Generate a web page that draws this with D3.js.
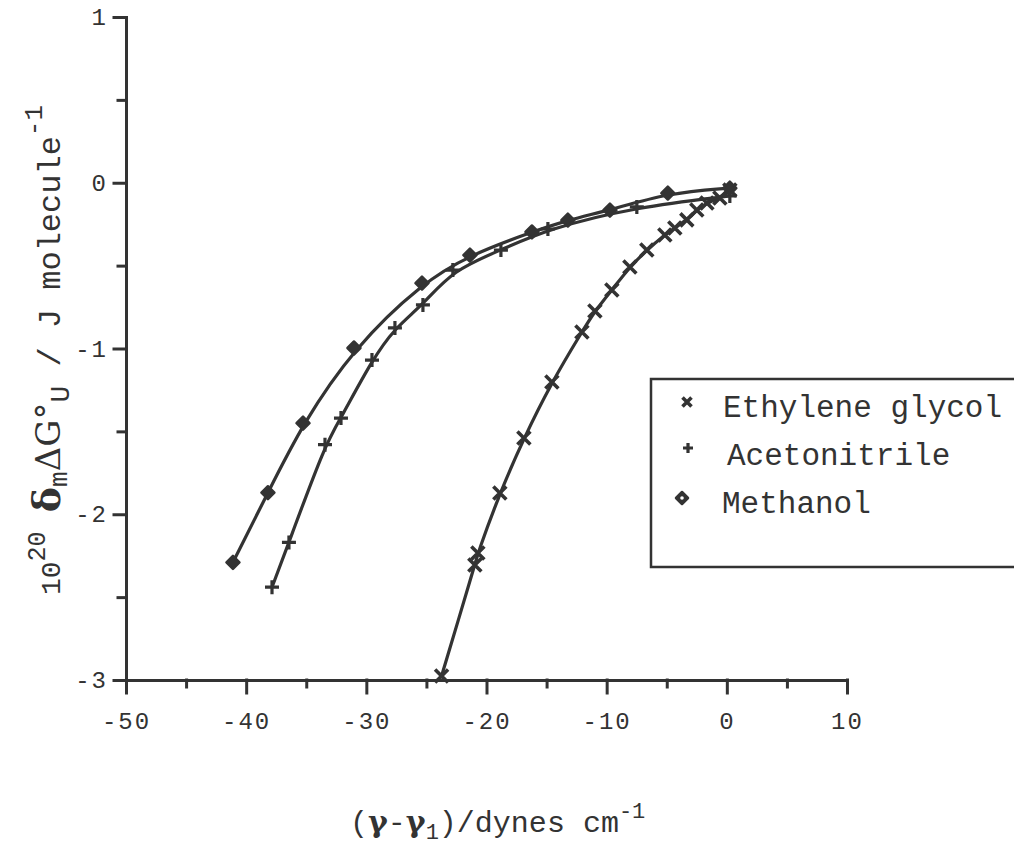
<!DOCTYPE html>
<html><head><meta charset="utf-8">
<script src="https://cdn.jsdelivr.net/npm/d3@7"></script>
<style>
html,body{margin:0;padding:0;background:#fff;}
svg{display:block;}
</style></head>
<body>
<svg id="chart" width="1014" height="848"></svg>
<script>
// ---- data ----
const xMajorTicks = [-50, -40, -30, -20, -10, 0, 10];
const yMajorTicks = [-3, -2, -1, 0, 1];
const seriesNames = ["Ethylene glycol", "Acetonitrile", "Methanol"];

const egX = [-23.74, -20.97, -20.72, -18.89, -16.89, -14.56, -12.06, -10.98, -9.57, -8.07, -6.66, -5.16, -4.33, -3.33, -2.50, -1.66, -0.58, 0.25];
const egY = [-2.976, -2.306, -2.234, -1.872, -1.540, -1.202, -0.900, -0.774, -0.647, -0.508, -0.406, -0.315, -0.273, -0.224, -0.164, -0.122, -0.092, -0.044];

const acX = [-37.85, -36.44, -33.44, -32.11, -29.53, -27.62, -25.29, -22.80, -18.80, -14.89, -7.49, 0.25];
const acY = [-2.44, -2.17, -1.58, -1.42, -1.07, -0.876, -0.737, -0.527, -0.406, -0.279, -0.146, -0.08];

const meX = [-41.10, -38.19, -35.27, -31.03, -25.37, -21.38, -16.22, -13.23, -9.73, -4.91, 0.25];
const meY = [-2.29, -1.87, -1.45, -0.997, -0.605, -0.436, -0.297, -0.225, -0.165, -0.062, -0.032];

// ---- drawing ----
const ink = "#333";
const svg = d3.select("#chart");
const x = d3.scaleLinear().domain([-50, 10]).range([126, 847]);
const y = d3.scaleLinear().domain([-3, 1]).range([680, 17]);
const mono = "'Liberation Mono', 'DejaVu Sans Mono', monospace";
const symf = "'DejaVu Serif', 'Liberation Serif', serif";

const xMinor = d3.range(-50, 10.01, 5).filter(v => !xMajorTicks.includes(v));
const yMinor = d3.range(-3, 1.01, 0.5).filter(v => !yMajorTicks.includes(v));
const fmt = d => d < 0 ? "-" + Math.abs(d) : String(d);

const gx = svg.append("g").attr("transform", `translate(0,${y(-3)})`);
gx.call(d3.axisBottom(x).tickValues(xMajorTicks).tickSize(13).tickSizeOuter(0).tickPadding(14).tickFormat(fmt));
const gxm = svg.append("g").attr("transform", `translate(0,${y(-3)})`);
gxm.call(d3.axisBottom(x).tickValues(xMinor).tickSize(7).tickSizeOuter(0).tickFormat(""));
gxm.select(".domain").remove();

const gy = svg.append("g").attr("transform", `translate(${x(-50)},0)`);
gy.call(d3.axisLeft(y).tickValues(yMajorTicks).tickSize(12).tickSizeOuter(0).tickPadding(6).tickFormat(fmt));
const gym = svg.append("g").attr("transform", `translate(${x(-50)},0)`);
gym.call(d3.axisLeft(y).tickValues(yMinor).tickSize(8).tickSizeOuter(0).tickFormat(""));
gym.select(".domain").remove();

svg.selectAll(".domain, .tick line").attr("stroke", ink).attr("stroke-width", 3).attr("stroke-linecap", "square");
svg.selectAll(".tick text").attr("font-family", mono).attr("font-size", 24).attr("fill", ink)
  .attr("letter-spacing", 2);
gx.selectAll(".tick text").attr("dy", "0.9em");

// curves
const line = d3.line().x(d => x(d[0])).y(d => y(d[1])).curve(d3.curveBasis);
const zip = (a, b) => a.map((v, i) => [v, b[i]]);
const eg = zip(egX, egY), ac = zip(acX, acY), me = zip(meX, meY);
[eg, ac, me].forEach(s => {
  svg.append("path").datum(s).attr("d", line).attr("fill", "none")
    .attr("stroke", ink).attr("stroke-width", 3.2).attr("stroke-linecap", "round");
});

// markers
function cross(g, cx, cy, r, w) {
  g.append("path").attr("d", `M${cx-r},${cy-r}L${cx+r},${cy+r}M${cx-r},${cy+r}L${cx+r},${cy-r}`)
    .attr("stroke", ink).attr("stroke-width", w).attr("fill", "none");
}
function plus(g, cx, cy, r, w) {
  g.append("path").attr("d", `M${cx-r},${cy}L${cx+r},${cy}M${cx},${cy-r}L${cx},${cy+r}`)
    .attr("stroke", ink).attr("stroke-width", w).attr("fill", "none");
}
function diamond(g, cx, cy, r, hole) {
  g.append("path").attr("d", `M${cx},${cy-r}L${cx+r},${cy}L${cx},${cy+r}L${cx-r},${cy}Z`)
    .attr("fill", ink).attr("stroke", ink).attr("stroke-width", 2.5).attr("stroke-linejoin", "round");
  if (hole) g.append("circle").attr("cx", cx).attr("cy", cy).attr("r", 1.8).attr("fill", "#fff");
}
const gm = svg.append("g");
eg.forEach(d => cross(gm, x(d[0]), y(d[1]), 6.5, 3.6));
ac.forEach(d => plus(gm, x(d[0]), y(d[1]), 7, 3.2));
me.forEach(d => diamond(gm, x(d[0]), y(d[1]), 6.5, false));

// legend
const lg = svg.append("g");
lg.append("rect").attr("x", 651).attr("y", 379).attr("width", 400).attr("height", 188)
  .attr("fill", "none").attr("stroke", ink).attr("stroke-width", 2.5);
cross(lg, 687, 402, 4.5, 3.6);
plus(lg, 688, 448, 5, 3.2);
diamond(lg, 682, 498, 6, true);
const ly = [417, 465, 513], lx = [723, 727, 722];
seriesNames.forEach((n, i) => {
  lg.append("text").attr("x", lx[i]).attr("y", ly[i]).attr("font-family", mono)
    .attr("font-size", 31).attr("fill", ink).text(n);
});

// x label
const xl = svg.append("text").attr("x", 350).attr("y", 832).attr("font-family", mono)
  .attr("font-size", 30).attr("fill", ink);
xl.append("tspan").text("(");
xl.append("tspan").attr("font-family", symf).attr("font-weight", "bold").text("γ");
xl.append("tspan").text("-");
xl.append("tspan").attr("font-family", symf).attr("font-weight", "bold").text("γ");
xl.append("tspan").attr("dy", 7).attr("font-size", 22).text("1");
xl.append("tspan").attr("dy", -7).text(")/dynes cm");
xl.append("tspan").attr("dy", -14).attr("font-size", 22).text("-1");

// y label
const yl = svg.append("text").attr("transform", "translate(60,350) rotate(-90)")
  .attr("text-anchor", "middle").attr("font-family", mono).attr("font-size", 32).attr("fill", ink);
yl.append("tspan").attr("font-size", 28).text("10");
yl.append("tspan").attr("dy", -15).attr("font-size", 25).text("20");
yl.append("tspan").attr("dy", 15).text(" ");
yl.append("tspan").attr("font-family", symf).attr("font-weight", "bold").attr("font-size", 38).text("δ");
yl.append("tspan").attr("dy", 7).attr("font-size", 26).text("m");
yl.append("tspan").attr("dy", -7).attr("font-family", symf).attr("font-size", 34).text("ΔG°");
yl.append("tspan").attr("dy", 9).attr("font-size", 28).text("U");
yl.append("tspan").attr("dy", -9).text(" / J molecule");
yl.append("tspan").attr("dy", -18).attr("font-size", 26).text("-1");
</script>
</body></html>
